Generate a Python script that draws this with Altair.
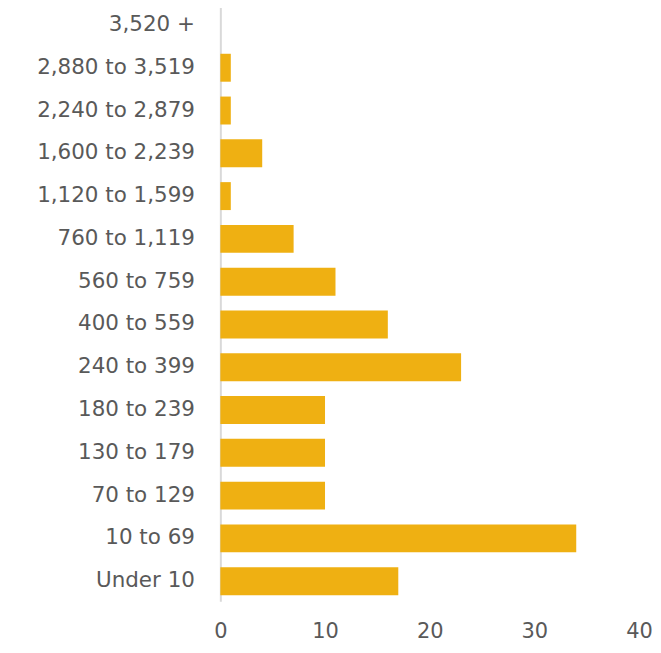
import altair as alt
import pandas as pd

categories = ["3,520 +", "2,880 to 3,519", "2,240 to 2,879", "1,600 to 2,239",
              "1,120 to 1,599", "760 to 1,119", "560 to 759", "400 to 559",
              "240 to 399", "180 to 239", "130 to 179", "70 to 129",
              "10 to 69", "Under 10"]
values = [0, 1, 1, 4, 1, 7, 11, 16, 23, 10, 10, 10, 34, 17]

df = pd.DataFrame({"cat": categories, "val": values})

FONT = "DejaVu Sans"
TXT = "#595959"

bars = alt.Chart(df).mark_bar(color="#EFB012").encode(
    x=alt.X("val:Q", scale=alt.Scale(domain=[0, 40], nice=False),
            axis=alt.Axis(title=None, values=[0, 10, 20, 30, 40], grid=False,
                          domain=False, ticks=False, labelFontSize=21,
                          labelColor=TXT, labelFont=FONT, labelPadding=19,
                          labelBaseline="top", labelFlush=False)),
    y=alt.Y("cat:N", sort=categories,
            scale=alt.Scale(paddingInner=0.347, paddingOuter=0.14),
            axis=alt.Axis(title=None, domain=True, domainColor="#D9D9D9",
                          domainWidth=2, ticks=False, labelFontSize=21.5,
                          labelColor=TXT, labelFont=FONT, labelPadding=26)),
)

chart = bars.properties(
    width=420, height=598,
    autosize=alt.AutoSizeParams(type="none"),
    padding={"left": 213, "top": -4, "right": 14, "bottom": 40},
).configure_view(stroke=None)

chart.save("out.html", embed_options={"renderer": "svg", "actions": False})
